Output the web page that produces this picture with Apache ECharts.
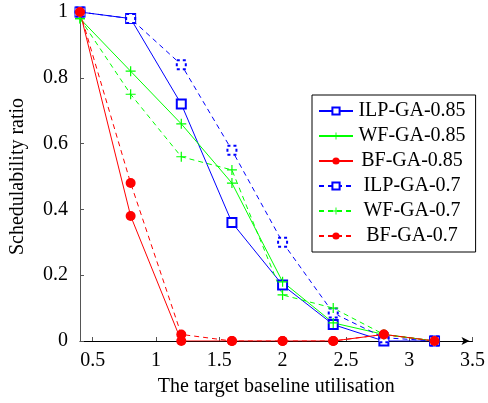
<!DOCTYPE html>
<html>
<head>
<meta charset="utf-8">
<script src="https://cdn.jsdelivr.net/npm/echarts@6/dist/echarts.min.js"></script>
<style>
html,body{margin:0;padding:0;background:#fff;}
#c{width:488px;height:403px;}
</style>
</head>
<body>
<div id="c"></div>
<script>
// ---- data ----
var xValues = [0.4, 0.8, 1.2, 1.6, 2.0, 2.4, 2.8, 3.2];
var ilp085 = [1, 0.98, 0.72, 0.36, 0.17, 0.05, 0, 0];
var wf085  = [0.98, 0.82, 0.66, 0.48, 0.18, 0.055, 0.02, 0];
var bf085  = [1, 0.38, 0, 0, 0, 0, 0.02, 0];
var ilp07  = [1, 0.98, 0.84, 0.58, 0.30, 0.085, 0.01, 0];
var wf07   = [0.98, 0.75, 0.56, 0.52, 0.14, 0.10, 0.02, 0];
var bf07   = [1, 0.48, 0.02, 0, 0, 0, 0.02, 0];
var seriesNames = ['ILP-GA-0.85', 'WF-GA-0.85', 'BF-GA-0.85', 'ILP-GA-0.7', 'WF-GA-0.7', 'BF-GA-0.7'];
var xTicks = [0.5, 1, 1.5, 2, 2.5, 3, 3.5];
var yTicks = [0, 0.2, 0.4, 0.6, 0.8, 1];
var xTitle = 'The target baseline utilisation';
var yTitle = 'Schedulability ratio';

var FONT = '"Liberation Serif", "DejaVu Serif", serif';
var PLUS = 'path://M4.4,0H5.6V4.4H10V5.6H5.6V10H4.4V5.6H0V4.4H4.4Z';

function pairs(ys) { return xValues.map(function (x, i) { return [x, ys[i]]; }); }

function mk(name, ys, color, dashed, symbol, size, extraItem) {
  var item = { color: color };
  if (extraItem) for (var k in extraItem) item[k] = extraItem[k];
  return {
    name: name, type: 'line', data: pairs(ys),
    symbol: symbol, symbolSize: size, showAllSymbol: true,
    lineStyle: { color: color, width: 1, type: dashed ? [5, 4] : 'solid' },
    itemStyle: item,
    emphasis: { disabled: true },
    animation: false, z: 3
  };
}
var serifRich = { s: { fontFamily: FONT, fontSize: 20, color: '#000' } };

var chart = echarts.init(document.getElementById('c'), null, { renderer: 'canvas' });
chart.setOption({
  animation: false,
  textStyle: { fontFamily: FONT, color: '#000' },
  grid: { left: 79, right: 11, top: 12, bottom: 62 },
  xAxis: {
    type: 'value', min: 0.4, max: 3.5,
    name: xTitle, nameLocation: 'middle', nameGap: 36,
    nameTextStyle: { fontFamily: FONT, fontSize: 20, color: '#000' },
    axisLine: { show: true, onZero: false, symbol: ['none', 'arrow'], symbolSize: [6, 8], symbolOffset: [0, -3],
      lineStyle: { color: '#000', width: 1 } },
    axisTick: { show: true, inside: true, length: 4, customValues: xTicks, lineStyle: { color: '#555' } },
    axisLabel: { customValues: xTicks, margin: 10, fontFamily: FONT, fontSize: 20, color: '#000', rich: serifRich,
      formatter: function (v) { return '{s|' + String(v) + '}'; } },
    splitLine: { show: false }
  },
  yAxis: {
    type: 'value', min: 0, max: 1, interval: 0.2,
    name: yTitle, nameLocation: 'middle', nameGap: 52,
    nameTextStyle: { fontFamily: FONT, fontSize: 20, color: '#000' },
    axisLine: { show: true, lineStyle: { color: '#555', width: 1 } },
    axisTick: { show: true, inside: true, length: 4, lineStyle: { color: '#555' } },
    axisLabel: { margin: 12, fontFamily: FONT, fontSize: 20, color: '#000', rich: serifRich,
      formatter: function (v) { return yTicks.indexOf(v) >= 0 ? '{s|' + String(v) + '}' : ''; } },
    splitLine: { show: false }
  },
  legend: {
    orient: 'vertical', left: 312, top: 95,
    padding: [6, 10, 6, 6], itemGap: 5, itemWidth: 34, itemHeight: 9,
    backgroundColor: '#fff', borderColor: '#000', borderWidth: 1,
    data: seriesNames,
    formatter: function (n) { return '{t|' + n + '}'; },
    textStyle: { fontFamily: FONT, fontSize: 20, color: '#000',
      rich: { t: { width: 108, align: 'center', fontFamily: FONT, fontSize: 20, color: '#000' } } }
  },
  series: [
    mk(seriesNames[0], ilp085, '#0000ff', false, 'emptyRect', 9, { borderWidth: 1 }),
    mk(seriesNames[1], wf085, '#00ff00', false, PLUS, 10),
    mk(seriesNames[2], bf085, '#ff0000', false, 'circle', 10),
    mk(seriesNames[3], ilp07, '#0000ff', true, 'emptyRect', 9, { borderWidth: 1, borderType: [3, 3] }),
    mk(seriesNames[4], wf07, '#00ff00', true, PLUS, 10),
    mk(seriesNames[5], bf07, '#ff0000', true, 'circle', 10)
  ]
});
</script>
</body>
</html>
